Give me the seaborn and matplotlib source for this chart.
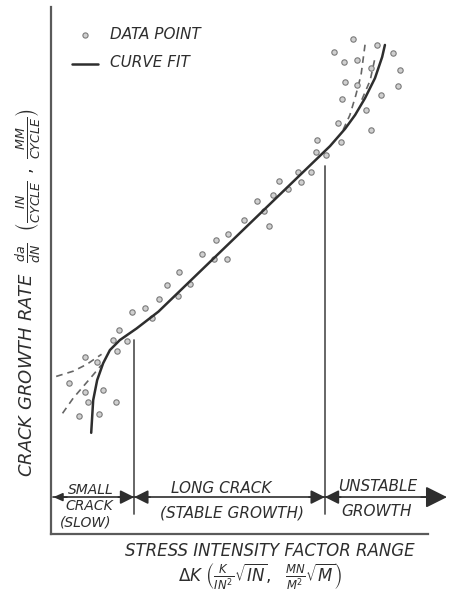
import matplotlib
matplotlib.use("Agg")
import matplotlib.pyplot as plt
import seaborn as sns
import pandas as pd

# Measured crack growth data (arbitrary log-scaled units, 0-100 on each axis)
dk_points = [20.3, 23.6, 25.3, 17.1, 15.5, 19.2, 16.7, 8.5, 11.6, 4.6, 13.1, 8.5, 9.4, 16.3, 7.1, 12.1,
             41.5, 44.5, 37.9, 41.0, 44.1, 32.2, 29.2, 34.9, 27.2, 32.0,
             66.9, 66.5, 69.1, 62.0, 65.3, 57.4, 62.8, 59.6, 55.9, 51.8, 53.5, 48.5, 54.8,
             76.0, 82.0, 71.2, 85.9, 73.7, 77.0, 80.3, 87.7, 87.3, 73.9, 77.0, 82.9, 73.0,
             79.1, 72.0, 80.3, 72.8]
rate_points = [42.1, 42.8, 40.9, 38.7, 36.8, 36.7, 34.8, 33.6, 32.6, 28.7, 27.3, 27.0, 25.1, 25.0, 22.3, 22.8,
               55.8, 56.9, 53.1, 52.2, 52.2, 49.7, 47.2, 47.4, 44.6, 45.2,
               74.8, 72.4, 71.9, 68.7, 68.7, 66.9, 66.7, 65.5, 64.3, 63.1, 61.2, 59.6, 58.4,
               93.9, 92.7, 91.5, 91.2, 89.6, 89.9, 88.4, 88.0, 85.1, 85.7, 85.2, 83.3, 82.5,
               80.5, 77.9, 76.7, 74.4]

# Curve fit through the three growth regions
fit_dk = [10.1, 10.6, 11.6, 13.1, 14.8, 17.3, 21.5, 27.0, 70.1, 73.9, 76.4, 78.9, 81.4, 83.2, 83.9]
fit_rate = [19.2, 25.4, 29.2, 32.4, 34.9, 36.8, 39.0, 42.2, 73.6, 76.9, 79.5, 82.7, 86.5, 90.5, 92.8]

# Dashed extrapolations of the fit
low_dash1_dk = [1.3, 5.6, 9.0, 12.7]
low_dash1_rate = [29.9, 30.9, 32.2, 34.1]
low_dash2_dk = [2.9, 5.6, 8.1, 10.6, 12.7]
low_dash2_rate = [22.9, 25.8, 28.0, 30.2, 32.1]
high_dash1_dk = [73.4, 75.1, 76.6, 77.9, 79.0]
high_dash1_rate = [76.7, 79.5, 83.3, 87.1, 93.4]
high_dash2_dk = [78.1, 80.2, 81.4]
high_dash2_rate = [82.4, 86.1, 90.3]

# Region boundaries
boundaries = [20.9, 68.8]
boundary_tops = [36.8, 69.8]

sns.set_theme(style="white")
plt.rcParams["font.family"] = ["DejaVu Sans"]
plt.rcParams["mathtext.fontset"] = "dejavusans"
plt.rcParams["mathtext.default"] = "it"

ink = "#2e2e2e"
grey = "#5a5a5a"

fig = plt.figure(figsize=(4.49, 5.93), dpi=100)
ax = fig.add_axes([51 / 449, 59 / 593, 398 / 449, 527 / 593])
ax.set_xlim(0, 100)
ax.set_ylim(0, 100)
ax.set_xticks([])
ax.set_yticks([])
for side in ("top", "right"):
    ax.spines[side].set_visible(False)
for side in ("left", "bottom"):
    ax.spines[side].set_color(grey)
    ax.spines[side].set_linewidth(1.6)
ax.spines["bottom"].set_bounds(0, 94.7)

pts = pd.DataFrame({"dk": dk_points, "rate": rate_points})
sns.scatterplot(data=pts, x="dk", y="rate", ax=ax, marker="o", s=15,
                facecolor="#cfcfcf", edgecolor="#7a7a7a", linewidth=0.8, legend=False, zorder=3)

fit = pd.DataFrame({"dk": fit_dk, "rate": fit_rate})
sns.lineplot(data=fit, x="dk", y="rate", ax=ax, sort=False, estimator=None,
             color=ink, linewidth=1.8, zorder=4)

for xs, ys in [(low_dash1_dk, low_dash1_rate), (low_dash2_dk, low_dash2_rate),
               (high_dash1_dk, high_dash1_rate), (high_dash2_dk, high_dash2_rate)]:
    ax.plot(xs, ys, color="#666666", linewidth=1.2, linestyle=(0, (4, 3)), zorder=2)

ax.set_xlabel("")
ax.set_ylabel("")

# Region dividers
for b, top in zip(boundaries, boundary_tops):
    ax.plot([b, b], [3.8, top], color=grey, linewidth=1.3)

# Dimension line across the regions
dim_y = 7.0
ax.plot([0.6, 96.5], [dim_y, dim_y], color=ink, linewidth=1.2)
ax.annotate("", xy=(0.6, dim_y), xytext=(4.0, dim_y),
            arrowprops=dict(arrowstyle="-|>,head_length=0.45,head_width=0.2", color=ink, lw=1.2,
                            shrinkA=0, shrinkB=0), annotation_clip=False)
for b in boundaries:
    for start in (b - 4.0, b + 4.0):
        ax.annotate("", xy=(b, dim_y), xytext=(start, dim_y),
                    arrowprops=dict(arrowstyle="-|>,head_length=0.7,head_width=0.35", color=ink,
                                    lw=1.2, shrinkA=0, shrinkB=0), annotation_clip=False)
ax.annotate("", xy=(99.5, dim_y), xytext=(93.0, dim_y),
            arrowprops=dict(arrowstyle="-|>,head_length=1.1,head_width=0.55", color=ink, lw=1.2,
                            shrinkA=0, shrinkB=0), annotation_clip=False)

txt = dict(color=ink, style="italic", ha="center", va="center")
ax.text(10.0, 8.3, "SMALL", fontsize=10, **txt)
ax.text(9.6, 5.3, "CRACK", fontsize=10, **txt)
ax.text(8.6, 2.1, "(SLOW)", fontsize=10, **txt)
ax.text(42.7, 8.7, "LONG CRACK", fontsize=11, **txt)
ax.text(45.5, 4.0, "(STABLE GROWTH)", fontsize=11, **txt)
ax.text(82.2, 9.1, "UNSTABLE", fontsize=11, **txt)
ax.text(81.9, 4.2, "GROWTH", fontsize=11, **txt)

# Axis titles
ax.text(55.0, -3.2, "STRESS INTENSITY FACTOR RANGE", fontsize=12, clip_on=False, **txt)
ax.text(52.5, -8.0,
        r"$\Delta K\ \left(\frac{K}{IN^2}\sqrt{IN},\ \ \frac{MN}{M^2}\sqrt{M}\right)$",
        fontsize=12, clip_on=False, **txt)
fig.text(28 / 449, 1 - 293 / 593,
         r"CRACK GROWTH RATE  $\frac{da}{dN}$  $\left(\frac{IN}{CYCLE}\ ,\ \frac{MM}{CYCLE}\right)$",
         rotation=90, fontsize=13, **txt)

# Legend
ax.scatter([8.5], [94.7], marker="o", s=14, facecolor="#cfcfcf", edgecolor="#7a7a7a", linewidth=0.8)
ax.text(14.8, 94.7, "DATA POINT", fontsize=11, color=ink, style="italic", ha="left", va="center")
ax.plot([5.3, 11.8], [89.2, 89.2], color=ink, linewidth=1.8)
ax.text(14.8, 89.4, "CURVE FIT", fontsize=11, color=ink, style="italic", ha="left", va="center")

fig.savefig("out.png", dpi=100, facecolor="white")
